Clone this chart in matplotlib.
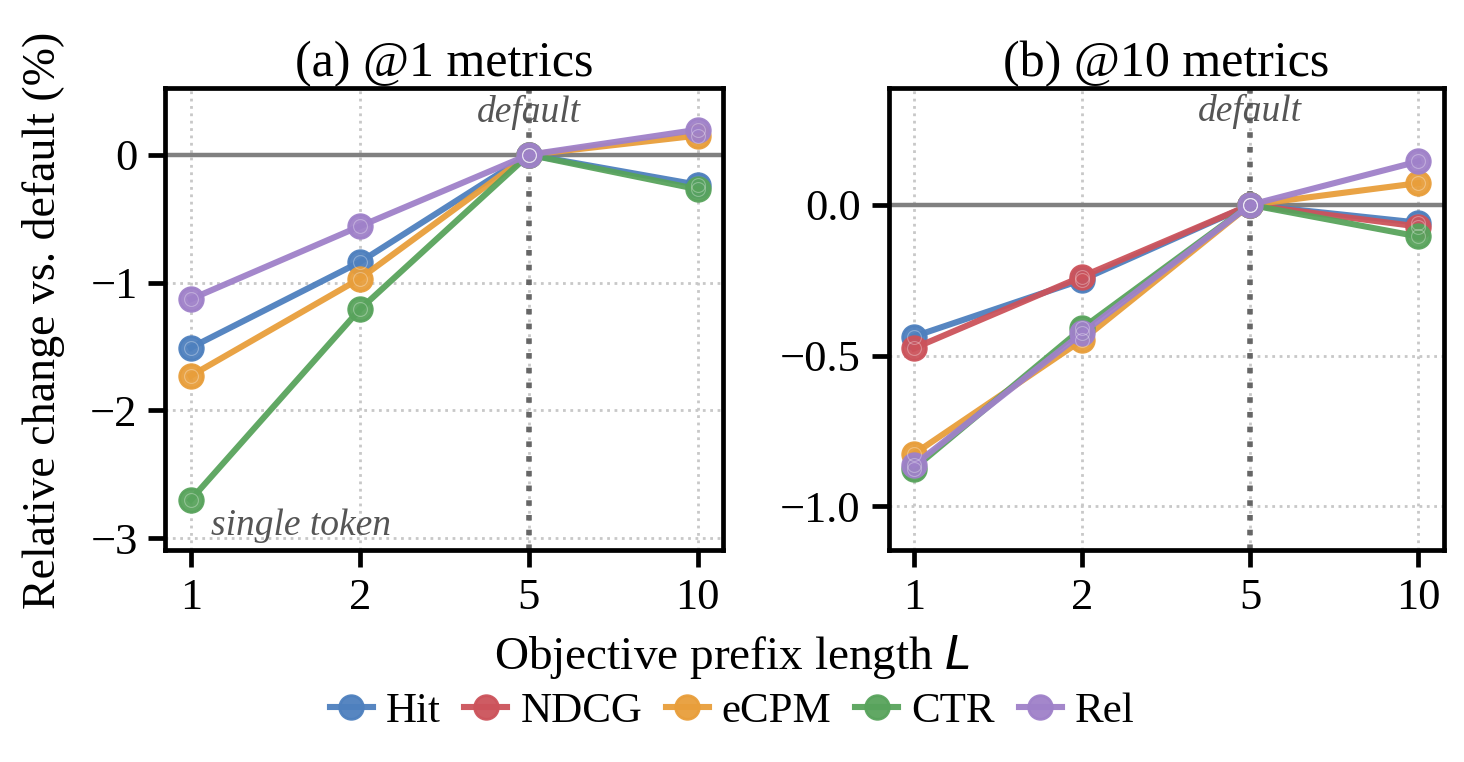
import numpy as np
import matplotlib
matplotlib.use("Agg")
import matplotlib.pyplot as plt

plt.rcParams['font.family'] = ['Liberation Serif', 'DejaVu Serif']
plt.rcParams['mathtext.fontset'] = 'dejavusans'

prefix_lengths = ["1", "2", "5", "10"]

# (a) @1 metrics (NDCG@1 == Hit@1, not drawn)
at1_hit = [-1.51, -0.84, 0.0, -0.235]
at1_ecpm = [-1.73, -0.97, 0.0, 0.15]
at1_ctr = [-2.70, -1.21, 0.0, -0.27]
at1_rel = [-1.13, -0.56, 0.0, 0.196]

# (b) @10 metrics
at10_hit = [-0.437, -0.249, 0.0, -0.059]
at10_ndcg = [-0.476, -0.238, 0.0, -0.072]
at10_ecpm = [-0.827, -0.449, 0.0, 0.072]
at10_ctr = [-0.875, -0.41, 0.0, -0.105]
at10_rel = [-0.864, -0.426, 0.0, 0.144]

colors = {
    "Hit": "#4E80BE",
    "NDCG": "#CC535B",
    "eCPM": "#E89E3B",
    "CTR": "#58A35C",
    "Rel": "#9F81C9",
}

fig = plt.figure(figsize=(7.32, 3.81), dpi=200)
ax1 = fig.add_axes([0.113, 0.278, 0.381, 0.607])
ax2 = fig.add_axes([0.607, 0.278, 0.379, 0.607])

x = np.arange(len(prefix_lengths))


def draw(ax, series, title):
    ax.grid(True, linestyle=':', color='#c8c8c8', linewidth=1.0)
    ax.axhline(0, color='#808080', linewidth=1.6, zorder=1)
    ax.axvline(2, color='#666666', linestyle=':', linewidth=2.0, zorder=1)
    for name, vals in series:
        ax.plot(x, vals, marker='o', markersize=8.5, linewidth=2.2,
                color=colors[name], markeredgecolor=colors[name],
                alpha=0.95, label=name, zorder=3)
        # faint inner ring on each marker
        ax.plot(x, vals, linestyle='none', marker='o', markersize=5,
                markerfacecolor='none', markeredgecolor='white',
                markeredgewidth=0.4, alpha=0.3, zorder=4)
    ax.set_xticks(x)
    ax.set_xticklabels(prefix_lengths)
    ax.set_xlim(-0.15, 3.15)
    ax.set_title(title, fontsize=18, pad=4)
    ax.tick_params(axis='both', labelsize=16, length=6, width=1.7,
                   direction='out', pad=4)
    for sp in ax.spines.values():
        sp.set_linewidth(1.7)
    ax.set_axisbelow(True)


draw(ax1, [("Hit", at1_hit), ("eCPM", at1_ecpm), ("CTR", at1_ctr),
           ("Rel", at1_rel)], "(a) @1 metrics")
ax1.set_ylim(-3.094, 0.525)
ax1.set_yticks([0, -1, -2, -3])
ax1.set_yticklabels(["0", "\u22121", "\u22122", "\u22123"])
ax1.text(2, 0.47, "default", ha='center', va='top', style='italic',
         fontsize=13.5, color='#555555')
ax1.text(0.12, -2.9, "single token", ha='left', va='center', style='italic',
         fontsize=13.5, color='#555555')

draw(ax2, [("Hit", at10_hit), ("NDCG", at10_ndcg), ("eCPM", at10_ecpm),
           ("CTR", at10_ctr), ("Rel", at10_rel)], "(b) @10 metrics")
ax2.set_ylim(-1.146, 0.389)
ax2.set_yticks([0.0, -0.5, -1.0])
ax2.set_yticklabels(["0.0", "\u22120.5", "\u22121.0"])
ax2.text(2, 0.367, "default", ha='center', va='top', style='italic',
         fontsize=13.5, color='#555555')

fig.text(0.03, 0.58, "Relative change vs. default (%)", rotation=90,
         ha='center', va='center', fontsize=16.5)
fig.text(0.5, 0.138, "Objective prefix length $L$", ha='center',
         va='center', fontsize=17)

handles, labels = ax2.get_legend_handles_labels()
fig.legend(handles, labels, loc='center', bbox_to_anchor=(0.5, 0.066),
           ncol=5, frameon=False, fontsize=15.5, handlelength=1.0,
           columnspacing=0.55, handletextpad=0.3)

fig.savefig("out.png", dpi=200)
